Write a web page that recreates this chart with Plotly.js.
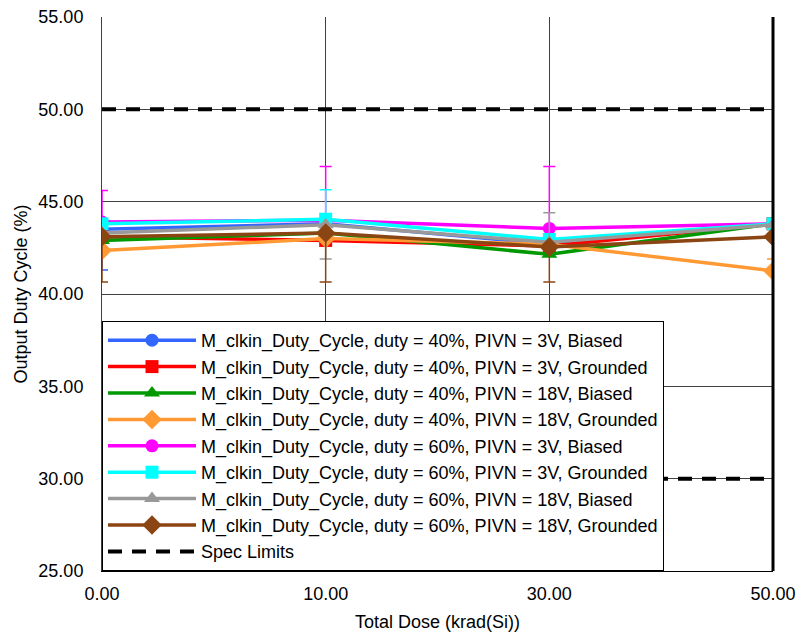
<!DOCTYPE html>
<html>
<head>
<meta charset="utf-8">
<script src="https://cdn.plot.ly/plotly-3.0.1.min.js"></script>
<style>html,body{margin:0;padding:0;background:#fff;}#chart{width:800px;height:635px;}</style>
</head>
<body>
<div id="chart"></div>
<script>
// Categories (Total Dose, krad(Si))
const doseLabels = ["0.00", "10.00", "30.00", "50.00"];

// Series names
const seriesNames = [
  "M_clkin_Duty_Cycle, duty = 40%, PIVN = 3V, Biased",
  "M_clkin_Duty_Cycle, duty = 40%, PIVN = 3V, Grounded",
  "M_clkin_Duty_Cycle, duty = 40%, PIVN = 18V, Biased",
  "M_clkin_Duty_Cycle, duty = 40%, PIVN = 18V, Grounded",
  "M_clkin_Duty_Cycle, duty = 60%, PIVN = 3V, Biased",
  "M_clkin_Duty_Cycle, duty = 60%, PIVN = 3V, Grounded",
  "M_clkin_Duty_Cycle, duty = 60%, PIVN = 18V, Biased",
  "M_clkin_Duty_Cycle, duty = 60%, PIVN = 18V, Grounded"
];

// Mean values (%)
const d40_3V_biased     = [43.5, 43.8, 42.7, 43.8];
const d40_3V_grounded   = [43.1, 42.9, 42.6, 43.8];
const d40_18V_biased    = [42.9, 43.3, 42.15, 43.8];
const d40_18V_grounded  = [42.35, 43.0, 42.7, 41.25];
const d60_3V_biased     = [43.9, 44.0, 43.55, 43.8];
const d60_3V_grounded   = [43.8, 44.05, 42.95, 43.8];
const d60_18V_biased    = [43.3, 43.75, 42.8, 43.75];
const d60_18V_grounded  = [43.1, 43.3, 42.55, 43.1];

// Error bars (plus / minus)
const err40_3V_biased_p    = [0, 0, 0, 0];
const err40_3V_biased_m    = [2.2, 0, 0, 0];
const err40_3V_grounded_p  = [0, 0, 0, 0];
const err40_3V_grounded_m  = [0, 0, 0, 0];
const err40_18V_biased_p   = [0, 0, 0, 0];
const err40_18V_biased_m   = [0, 0, 0, 0];
const err40_18V_grounded_p = [0, 0, 0, 0.65];
const err40_18V_grounded_m = [0, 0, 0, 0];
const err60_3V_biased_p    = [1.7, 2.9, 3.35, 0];
const err60_3V_biased_m    = [0, 0, 0, 0];
const err60_3V_grounded_p  = [0, 1.6, 0, 0];
const err60_3V_grounded_m  = [0, 0, 0, 0];
const err60_18V_biased_p   = [0, 0, 1.6, 0];
const err60_18V_biased_m   = [0, 1.85, 0, 0];
const err60_18V_grounded_p = [0, 0, 0, 0];
const err60_18V_grounded_m = [2.45, 2.65, 1.9, 0];

// Spec limits
const specLimits = [50, 30];

const seriesValues = [d40_3V_biased, d40_3V_grounded, d40_18V_biased, d40_18V_grounded,
                      d60_3V_biased, d60_3V_grounded, d60_18V_biased, d60_18V_grounded];
const errPlus = [err40_3V_biased_p, err40_3V_grounded_p, err40_18V_biased_p, err40_18V_grounded_p,
                 err60_3V_biased_p, err60_3V_grounded_p, err60_18V_biased_p, err60_18V_grounded_p];
const errMinus = [err40_3V_biased_m, err40_3V_grounded_m, err40_18V_biased_m, err40_18V_grounded_m,
                  err60_3V_biased_m, err60_3V_grounded_m, err60_18V_biased_m, err60_18V_grounded_m];

const colors = ["#3366ff", "#ff0000", "#009900", "#ff9933", "#ff00ff", "#00ffff", "#999999", "#8b4513"];
const symbols = ["circle", "square", "triangle-up", "diamond", "circle", "square", "triangle-up", "diamond"];
const sizes = [13, 13, 14, 15, 13, 13, 14, 15];

const traces = seriesValues.map((vals, i) => ({
  type: "scatter",
  mode: "lines+markers",
  name: seriesNames[i],
  x: doseLabels,
  y: vals,
  line: {color: colors[i], width: 3.5},
  marker: {color: colors[i], symbol: symbols[i], size: sizes[i]},
  error_y: {type: "data", symmetric: false, array: errPlus[i], arrayminus: errMinus[i],
            color: colors[i], thickness: 1.5, width: 6}
}));

// Spec limit lines
const specX = [];
const specY = [];
specLimits.forEach((v, k) => {
  if (k > 0) { specX.push(null); specY.push(null); }
  specX.push(doseLabels[0], doseLabels[doseLabels.length - 1]);
  specY.push(v, v);
});
traces.push({
  type: "scatter",
  mode: "lines",
  name: "Spec Limits",
  x: specX,
  y: specY,
  connectgaps: false,
  line: {color: "#000000", width: 4, dash: "14px,10px"}
});

const layout = {
  width: 800,
  height: 635,
  margin: {l: 102, r: 27, t: 17, b: 64},
  paper_bgcolor: "#ffffff",
  plot_bgcolor: "#ffffff",
  font: {family: "Liberation Sans, Arial, sans-serif", size: 18, color: "#000000"},
  showlegend: true,
  xaxis: {
    type: "category",
    range: [0, 3],
    showgrid: true,
    gridcolor: "#404040",
    gridwidth: 1,
    zeroline: false,
    showline: true,
    linecolor: "#000000",
    linewidth: 1,
    ticks: "",
    ticklabelstandoff: 6,
    title: {text: "Total Dose (krad(Si))", font: {size: 18}, standoff: 12}
  },
  yaxis: {
    range: [25, 55],
    tickvals: [25, 30, 35, 40, 45, 50, 55],
    ticktext: ["25.00", "30.00", "35.00", "40.00", "45.00", "50.00", "55.00"],
    showgrid: true,
    gridcolor: "#404040",
    gridwidth: 1,
    zeroline: false,
    showline: true,
    linecolor: "#404040",
    linewidth: 1,
    ticks: "",
    ticklabelstandoff: 14,
    title: {text: "Output Duty Cycle (%)", font: {size: 18}, standoff: 6}
  },
  legend: {
    x: 0, y: 0, xanchor: "left", yanchor: "bottom",
    bgcolor: "#ffffff",
    bordercolor: "#000000",
    borderwidth: 1,
    font: {size: 18, color: "#000000"},
    itemwidth: 88,
    entrywidth: 520,
    tracegroupgap: 0
  },
  shapes: [
    {type: "line", xref: "paper", yref: "paper", x0: 1, x1: 1, y0: 0, y1: 1,
     line: {color: "#000000", width: 3}}
  ]
};

Plotly.newPlot("chart", traces, layout, {displayModeBar: false, staticPlot: true});
</script>
</body>
</html>
